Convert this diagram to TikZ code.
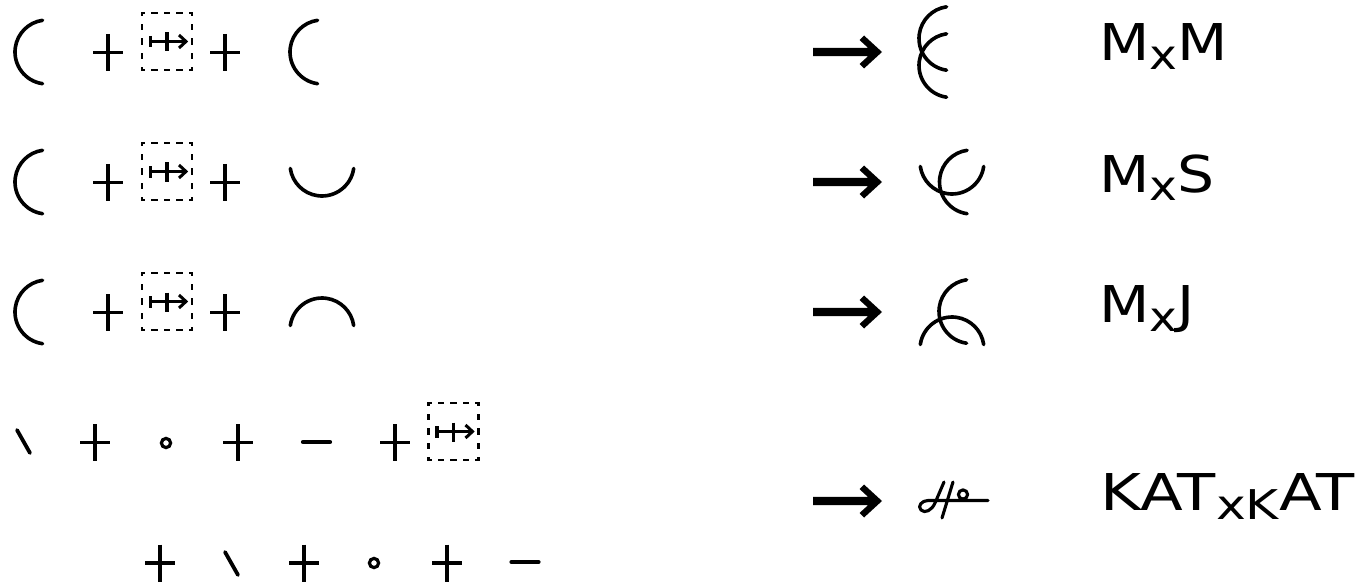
\documentclass[tikz,border=0pt]{standalone}
\usepackage{fontspec}
\newfontfamily\labfont[FakeStretch=1.15]{DejaVu Sans}
\newcommand{\sbx}[1]{\raisebox{-9pt}{\fontsize{41}{41}\selectfont #1}}
\tikzset{
  stroke/.style={line width=3.6pt, line cap=round},
  gl/.style={line width=3.1pt, line cap=round, line join=round},
  lparen/.pic={\draw[stroke] (98:32) arc[start angle=98, end angle=262, radius=32];},
  ucup/.pic={\draw[stroke] (8:32) arc[start angle=8, end angle=172, radius=32];},
  ncap/.pic={\draw[stroke] (188:32) arc[start angle=188, end angle=352, radius=32];},
  plussign/.pic={\draw[line width=3.3pt] (-15,0) -- (15,0) (0,-18.5) -- (0,18.5);},
  bslash/.pic={\draw[line width=3.8pt, line cap=round] (-6.5,-11.5) -- (6.5,11.5);},
  ringlet/.pic={\draw[line width=3.2pt] (0,0) circle[radius=4.6];},
  minussign/.pic={\draw[line width=4.2pt, line cap=round] (-13.5,0) -- (13.5,0);},
  bigarrow/.pic={\fill (0,-4.2) -- (55,-4.2) -- (46.5,-12) -- (51,-16.5) -- (69,0) -- (51,16.5) -- (46.5,12) -- (55,4.2) -- (0,4.2) -- cycle;},
  boxline/.style={line width=2.8pt, line cap=rect},
  mapbox/.pic={
    \draw[boxline, dash pattern=on 3.4pt off 9.1pt, dash phase=1.7pt] (-25,-28.5) -- (25,-28.5);
    \draw[boxline, dash pattern=on 3.4pt off 9.1pt, dash phase=1.7pt] (-25,28.5) -- (25,28.5);
    \draw[boxline, dash pattern=on 3.4pt off 10.85pt, dash phase=1.7pt] (-25,-28.5) -- (-25,28.5);
    \draw[boxline, dash pattern=on 3.4pt off 10.85pt, dash phase=1.7pt] (25,-28.5) -- (25,28.5);
    \draw[line width=3.4pt] (-16.5,0) -- (18,0);
    \draw[line width=3.4pt] (-16.5,-5.5) -- (-16.5,6);
    \draw[line width=3.4pt] (0,-9) -- (0,10);
    \draw[line width=3pt, line join=miter] (12,-6.5) -- (19,0) -- (12,6.5);
  },
  lab/.style={anchor=base west, inner sep=0pt, font=\labfont\fontsize{50.75}{60}\selectfont}
}
\begin{document}
\begin{tikzpicture}[x=1pt, y=-1pt]
\useasboundingbox[fill=white] (0,0) rectangle (1360,583);

% row 1
\pic at (47,52) {lparen};
\pic at (108,52.5) {plussign};
\pic at (167,41.5) {mapbox};
\pic at (225,52.5) {plussign};
\pic at (322,52) {lparen};
\pic at (813,52) {bigarrow};
\pic at (951,38.5) {lparen};
\pic at (951,65.5) {lparen};
\node[lab] (l1) at (1099,61) {M\sbx{x}M};

% row 2
\pic at (47,182) {lparen};
\pic at (108,182.5) {plussign};
\pic at (167,171.5) {mapbox};
\pic at (225,182.5) {plussign};
\pic at (322,164) {ucup};
\pic at (813,182) {bigarrow};
\pic at (971.5,182) {lparen};
\pic at (952,162) {ucup};
\node[lab] (l2) at (1099,192) {M\sbx{x}S};

% row 3
\pic at (47,312) {lparen};
\pic at (108,312.5) {plussign};
\pic at (167,301.5) {mapbox};
\pic at (225,312.5) {plussign};
\pic at (322,330) {ncap};
\pic at (813,312) {bigarrow};
\pic at (971,311.5) {lparen};
\pic at (952,349) {ncap};
\node[lab] (l3) at (1099,322) {M\sbx{x}J};

% row 4
\pic at (23.5,441.5) {bslash};
\pic at (95,442.5) {plussign};
\pic at (166,443) {ringlet};
\pic at (238,442.5) {plussign};
\pic at (316.5,442) {minussign};
\pic at (395,442.5) {plussign};
\pic at (453.5,431.5) {mapbox};

% row 5
\pic at (160,563) {plussign};
\pic at (231.5,563.5) {bslash};
\pic at (304,563) {plussign};
\pic at (374,563) {ringlet};
\pic at (447,563) {plussign};
\pic at (525,562) {minussign};

% result KAT x KAT
\pic at (813,501) {bigarrow};
\draw[gl] (944,482) -- (935,503) .. controls (932,510) and (925,514) .. (921,510) .. controls (917,506) and (922,500.5) .. (928,500.5) -- (988,500.5);
\draw[gl] (953,482) -- (942,518);
\draw[gl] (963,494.5) circle[radius=4.6];
\node[lab] (l4) at (1100,510) {\scalebox{1.07}[1]{KAT\sbx{xK}AT}};
\end{tikzpicture}
\end{document}
